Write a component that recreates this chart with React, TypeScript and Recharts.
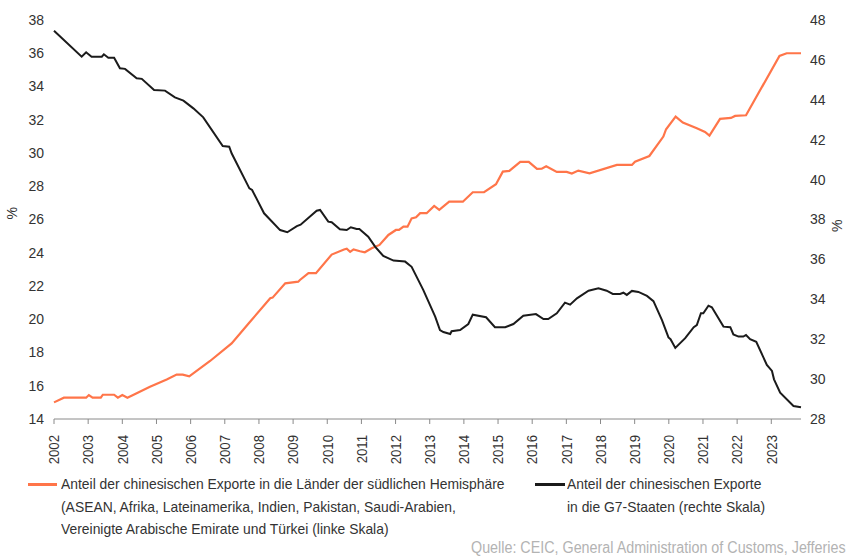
import React from "react";
import { LineChart, Line, XAxis, YAxis } from "recharts";

// Anteil der Exporte in die Länder der südlichen Hemisphäre (linke Skala, %)
const southDates = [
  2002.0, 2002.29, 2002.94, 2003.02, 2003.13, 2003.37, 2003.43, 2003.76, 2003.87, 2004.0,
  2004.15, 2004.81, 2005.3, 2005.59, 2005.77, 2005.96, 2006.57, 2007.2, 2007.74, 2008.33,
  2008.4, 2008.77, 2009.15, 2009.2, 2009.45, 2009.67, 2010.13, 2010.49, 2010.57, 2010.67,
  2010.77, 2010.96, 2011.1, 2011.3, 2011.53, 2011.79, 2012.01, 2012.1, 2012.23, 2012.35,
  2012.47, 2012.6, 2012.72, 2012.91, 2013.13, 2013.28, 2013.57, 2013.97, 2014.26, 2014.59,
  2014.94, 2015.14, 2015.33, 2015.65, 2015.9, 2016.14, 2016.28, 2016.41, 2016.72, 2017.01,
  2017.16, 2017.35, 2017.68, 2018.48, 2018.92, 2019.01, 2019.43, 2019.84, 2019.92, 2020.2,
  2020.41, 2020.82, 2021.06, 2021.19, 2021.5, 2021.82, 2021.94, 2022.26, 2023.24, 2023.45,
  2023.87,
];
const southShare = [
  15.0, 15.28, 15.28, 15.44, 15.28, 15.28, 15.46, 15.46, 15.28, 15.44,
  15.28, 15.94, 16.37, 16.67, 16.67, 16.57, 17.49, 18.55, 19.85, 21.26,
  21.3, 22.16, 22.26, 22.36, 22.77, 22.77, 23.89, 24.2, 24.24, 24.05,
  24.2, 24.09, 24.03, 24.27, 24.47, 25.07, 25.37, 25.37, 25.57, 25.57,
  26.07, 26.13, 26.38, 26.38, 26.82, 26.58, 27.07, 27.07, 27.64, 27.64,
  28.12, 28.88, 28.92, 29.47, 29.47, 29.05, 29.06, 29.2, 28.86, 28.86,
  28.76, 28.94, 28.78, 29.28, 29.28, 29.48, 29.82, 30.99, 31.43, 32.19,
  31.83, 31.49, 31.27, 31.05, 32.05, 32.11, 32.23, 32.27, 35.84, 36.0,
  36.0,
];

// Anteil der Exporte in die G7-Staaten (rechte Skala, %)
const g7Dates = [
  2002.0, 2002.81, 2002.94, 2003.1, 2003.4, 2003.46, 2003.59, 2003.76, 2003.93, 2004.08,
  2004.42, 2004.57, 2004.93, 2005.25, 2005.54, 2005.79, 2006.08, 2006.37, 2006.94, 2007.13,
  2007.2, 2007.72, 2007.8, 2008.15, 2008.62, 2008.83, 2009.11, 2009.22, 2009.69, 2009.79,
  2010.03, 2010.13, 2010.37, 2010.57, 2010.69, 2010.86, 2010.94, 2011.2, 2011.4, 2011.64,
  2011.94, 2012.28, 2012.47, 2012.81, 2013.16, 2013.3, 2013.4, 2013.6, 2013.64, 2013.89,
  2014.13, 2014.26, 2014.65, 2014.91, 2015.21, 2015.45, 2015.74, 2016.11, 2016.33, 2016.47,
  2016.72, 2016.96, 2017.11, 2017.31, 2017.65, 2017.94, 2018.18, 2018.36, 2018.57, 2018.67,
  2018.77, 2018.92, 2019.11, 2019.36, 2019.55, 2019.8, 2019.99, 2020.05, 2020.19, 2020.48,
  2020.73, 2020.82, 2020.94, 2021.01, 2021.16, 2021.26, 2021.6, 2021.8, 2021.89, 2022.04,
  2022.18, 2022.26, 2022.38, 2022.56, 2022.87, 2023.02, 2023.08, 2023.26, 2023.65, 2023.87,
];
const g7Share = [
  47.46, 46.16, 46.38, 46.16, 46.16, 46.28, 46.11, 46.11, 45.58, 45.55,
  45.08, 45.05, 44.49, 44.46, 44.12, 43.96, 43.57, 43.12, 41.68, 41.65,
  41.32, 39.56, 39.48, 38.31, 37.47, 37.36, 37.67, 37.74, 38.44, 38.48,
  37.89, 37.86, 37.51, 37.47, 37.61, 37.52, 37.52, 37.14, 36.64, 36.17,
  35.94, 35.89, 35.63, 34.47, 33.13, 32.46, 32.36, 32.26, 32.4, 32.46,
  32.76, 33.23, 33.1, 32.6, 32.6, 32.76, 33.18, 33.26, 33.01, 33.01,
  33.3, 33.83, 33.73, 34.05, 34.43, 34.55, 34.43, 34.27, 34.27, 34.33,
  34.22, 34.42, 34.37, 34.17, 33.91, 32.96, 32.09, 32.0, 31.56, 32.05,
  32.6, 32.71, 33.3, 33.3, 33.68, 33.6, 32.63, 32.6, 32.24, 32.13,
  32.13, 32.21, 32.0, 31.87, 30.71, 30.41, 29.99, 29.32, 28.65, 28.59,
];

const years = [
  2002, 2003, 2004, 2005, 2006, 2007, 2008, 2009, 2010, 2011, 2012,
  2013, 2014, 2015, 2016, 2017, 2018, 2019, 2020, 2021, 2022, 2023,
];
const leftTicks = [14, 16, 18, 20, 22, 24, 26, 28, 30, 32, 34, 36, 38];
const rightTicks = [28, 30, 32, 34, 36, 38, 40, 42, 44, 46, 48];

const southLegend = [
  "Anteil der chinesischen Exporte in die Länder der südlichen Hemisphäre",
  "(ASEAN, Afrika, Lateinamerika, Indien, Pakistan, Saudi-Arabien,",
  "Vereinigte Arabische Emirate und Türkei (linke Skala)",
];
const g7Legend = ["Anteil der chinesischen Exporte", "in die G7-Staaten (rechte Skala)"];
const source = "Quelle: CEIC, General Administration of Customs, Jefferies";

const ORANGE = "#FF7549";
const BLACK = "#1b1b1b";
const TEXT = "#333333";
const FONT = "'Liberation Sans', Arial, sans-serif";

// merge both series on one time axis; gaps get bridged with connectNulls
const rows = (() => {
  const map = new Map<number, { t: number; south?: number; g7?: number }>();
  southDates.forEach((t, i) => {
    const r = map.get(t) ?? { t };
    r.south = southShare[i];
    map.set(t, r);
  });
  g7Dates.forEach((t, i) => {
    const r = map.get(t) ?? { t };
    r.g7 = g7Share[i];
    map.set(t, r);
  });
  return Array.from(map.values()).sort((a, b) => a.t - b.t);
})();

// rotated year labels, squeezed a little to look like the condensed original
function YearTick(props: any) {
  const { x, y, payload } = props;
  return (
    <text
      x={0}
      y={0}
      dy="0.35em"
      textAnchor="end"
      transform={`translate(${x},${y + 9}) rotate(-90) scale(0.88,1)`}
      fill={TEXT}
      fontSize={15}
      fontFamily={FONT}
    >
      {payload.value}
    </text>
  );
}

const tickStyle = { fill: TEXT, fontSize: 14, fontFamily: FONT };

const narrow = {
  transform: "scaleX(0.925)",
  transformOrigin: "left top",
  whiteSpace: "nowrap" as const,
};

export default function App() {
  return (
    <div
      style={{
        position: "absolute",
        left: 0,
        top: 0,
        width: 846,
        height: 558,
        overflow: "hidden",
        background: "#fff",
        fontFamily: FONT,
        color: TEXT,
      }}
    >
      <LineChart
        width={846}
        height={470}
        data={rows}
        margin={{ top: 20, right: 0, bottom: 0, left: 0 }}
      >
        <XAxis
          dataKey="t"
          type="number"
          domain={[2002, 2023.87]}
          ticks={years}
          interval={0}
          height={51}
          tick={<YearTick />}
          tickSize={5}
          axisLine={{ stroke: "#8a8a8a" }}
          tickLine={{ stroke: "#8a8a8a" }}
        />
        <YAxis
          yAxisId="left"
          orientation="left"
          width={54}
          domain={[14, 38]}
          ticks={leftTicks}
          interval={0}
          axisLine={false}
          tickLine={false}
          tickSize={6}
          tickMargin={4}
          tick={tickStyle}
          label={{ value: "%", angle: -90, position: "insideLeft", offset: 12, fill: TEXT, fontSize: 14, fontFamily: FONT }}
        />
        <YAxis
          yAxisId="right"
          orientation="right"
          width={45}
          domain={[28, 48]}
          ticks={rightTicks}
          interval={0}
          axisLine={false}
          tickLine={false}
          tickSize={6}
          tickMargin={3}
          tick={tickStyle}
          label={{ value: "%", angle: -90, position: "insideRight", offset: 9, fill: TEXT, fontSize: 14, fontFamily: FONT }}
        />
        <Line
          yAxisId="left"
          dataKey="south"
          stroke={ORANGE}
          strokeWidth={2.2}
          dot={false}
          connectNulls
          isAnimationActive={false}
        />
        <Line
          yAxisId="right"
          dataKey="g7"
          stroke={BLACK}
          strokeWidth={2}
          dot={false}
          connectNulls
          isAnimationActive={false}
        />
      </LineChart>

      {/* legend */}
      <div style={{ position: "absolute", left: 28, top: 483, width: 29, height: 2.5, background: ORANGE }} />
      <div style={{ position: "absolute", left: 61, top: 473, fontSize: 15, lineHeight: "22.5px", ...narrow }}>
        {southLegend.map((l) => (
          <div key={l}>{l}</div>
        ))}
      </div>
      <div style={{ position: "absolute", left: 535, top: 483, width: 30, height: 2.5, background: BLACK }} />
      <div style={{ position: "absolute", left: 567, top: 473, fontSize: 15, lineHeight: "22.5px", ...narrow }}>
        {g7Legend.map((l) => (
          <div key={l}>{l}</div>
        ))}
      </div>

      <div
        style={{
          position: "absolute",
          left: 471,
          top: 539,
          fontSize: 16,
          color: "#b3b3b3",
          whiteSpace: "nowrap",
          transform: "scaleX(0.895)",
          transformOrigin: "left top",
        }}
      >
        {source}
      </div>
    </div>
  );
}
